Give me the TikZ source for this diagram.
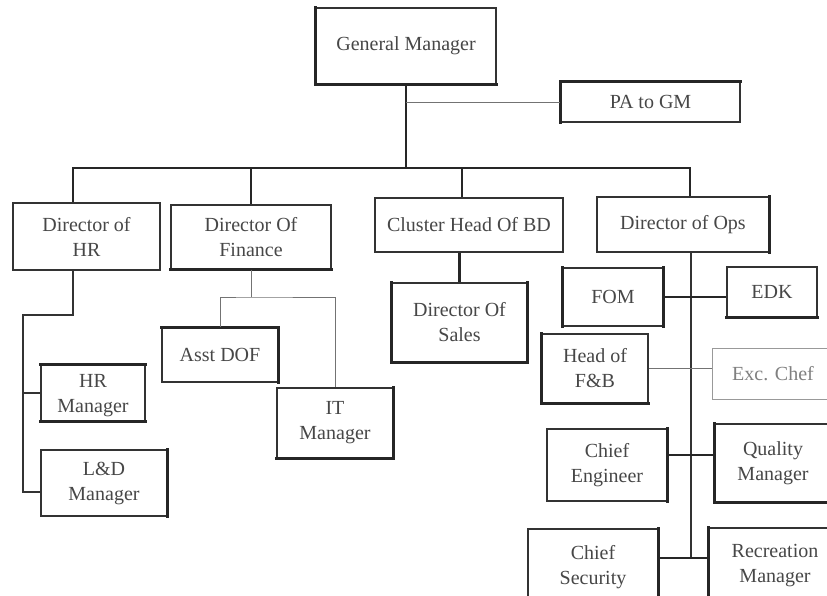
\documentclass[tikz,border=0pt]{standalone}
\usepackage{fontspec}
\setmainfont{Liberation Serif}
\begin{document}
\begin{tikzpicture}[x=1pt,y=-1pt,
  box/.style={draw=black!80, line width=1.2pt, fill=white, align=center,
    text=black!72, font=\fontsize{20}{25}\selectfont, inner sep=0pt},
  lightbox/.style={box, draw=black!40, text=black!50, line width=1pt},
  thk/.style={draw=black!85, line width=2.8pt, line cap=rect},
  heavy/.style={draw=black!85, line width=2.4pt},
  mid/.style={draw=black!80, line width=1.5pt},
  thin/.style={draw=black!55, line width=1pt}]
\useasboundingbox (0,0) rectangle (827,595);
\clip (0,0) rectangle (827,595);
\fill[white] (0,0) rectangle (827,595);

% nodes
\node[box, minimum width=180pt, minimum height=76pt] (gm) at (406,46) {General Manager};
\node[box, minimum width=179pt, minimum height=40pt] (pa) at (650.5,102) {PA to GM};
\node[box, line width=2.4pt, minimum width=147pt, minimum height=67pt] (dhr) at (86.5,236.5) {Director of\\HR};
\node[box, minimum width=160pt, minimum height=64pt] (dfin) at (251,237) {Director Of\\Finance};
\node[box, minimum width=188pt, minimum height=54pt] (chbd) at (469,225) {Cluster Head Of BD};
\node[box, minimum width=172pt, minimum height=55pt] (dops) at (683,224.5) {Director of Ops};
\node[box, minimum width=135pt, minimum height=79pt] (dsales) at (459.5,322.5) {Director Of\\Sales};
\node[box, minimum width=100pt, minimum height=58pt] (fom) at (613,297) {FOM};
\node[box, minimum width=90pt, minimum height=50pt] (edk) at (772,292) {EDK};
\node[box, minimum width=116pt, minimum height=54pt] (asst) at (220,355) {Asst DOF};
\node[box, minimum width=116pt, minimum height=70pt] (it) at (335,423) {IT\\Manager};
\node[box, minimum width=104pt, minimum height=56pt, text depth=0pt] (hrm) at (93,393) {HR\\Manager};
\node[box, minimum width=126pt, minimum height=66pt] (ldm) at (104,483) {L\&D\\Manager};
\node[box, minimum width=106pt, minimum height=69pt] (hfb) at (595,368.5) {Head of\\F\&B};
\node[lightbox, minimum width=122pt, minimum height=51pt] (exc) at (773,373.5) {Exc. Chef};
\node[box, minimum width=120pt, minimum height=72pt] (ceng) at (607,465) {Chief\\Engineer};
\node[box, minimum width=116pt, minimum height=78pt] (qm) at (773,463) {Quality\\Manager};
\node[box, minimum width=130pt, minimum height=76pt] (csec) at (593,567) {Chief\\Security};
\node[box, minimum width=132pt, minimum height=76pt] (rec) at (775,566) {Recreation\\Manager};

% thick edges
\draw[thk] (gm.north west) -- (gm.south west) -- (gm.south east);
\draw[thk] (pa.south west) -- (pa.north west) -- (pa.north east);
\draw[thk] (dfin.south west) -- (dfin.south east);
\draw[thk] (dops.north east) -- (dops.south east);
\draw[thk] (fom.north west) -- (fom.south west);
\draw[thk] (fom.north east) -- (fom.south east);
\draw[thk] (edk.south west) -- (edk.south east);
\draw[thk] (dsales.north west) -- (dsales.south west) -- (dsales.south east) -- (dsales.north east);
\draw[thk] (asst.north west) -- (asst.north east) -- (asst.south east);
\draw[thk] (hrm.north west) -- (hrm.north east);
\draw[thk] (hrm.south west) -- (hrm.south east);
\draw[thk] (ldm.north east) -- (ldm.south east);
\draw[thk] (it.north east) -- (it.south east) -- (it.south west);
\draw[thk] (hfb.north west) -- (hfb.south west) -- (hfb.south east);
\draw[thk] (ceng.north east) -- (ceng.south east);
\draw[thk] (qm.north west) -- (qm.south west) -- (qm.south east);
\draw[thk] (csec.north east) -- (csec.south east);
\draw[thk] (rec.north west) -- (rec.south west);

% connector coordinates
\coordinate (bL) at (73,168);
\coordinate (bR) at (690,168);
\coordinate (fj) at (251,297);
\coordinate (hrA) at (23,315);
\coordinate (oB) at (691,558);

% connectors
\draw[heavy] (gm.south) -- (gm.south |- bL);
\draw[thin] (gm.south |- pa.west) -- (pa.west);
\draw[heavy] (dhr.north -| bL) -- (bL) -- (bR) -- (dops.north -| bR);
\draw[heavy] (dfin.north |- bL) -- (dfin.north);
\draw[heavy] (bL -| 462,0) -- (chbd.north -| 462,0);
\draw[thin] (dfin.south) -- (fj);
\draw[thin] (asst.north) |- (fj) -| (it.north);
\draw[mid] (dhr.south -| bL) |- (hrA) |- ([yshift=-9pt]ldm.west);
\draw[mid] (hrA |- hrm.west) -- (hrm.west);
\draw[heavy] (dsales.north |- chbd.south) -- (dsales.north);
\draw[mid] (dops.south -| oB) -- (oB);
\draw[heavy] (fom.east) -- (fom.east -| edk.west);
\draw[thin] (hfb.east) -- (hfb.east -| exc.west);
\draw[heavy] ([yshift=10pt]ceng.east) -- ([yshift=10pt]ceng.east -| qm.west);
\draw[heavy] (csec.east |- oB) -- (rec.west |- oB);
\end{tikzpicture}
\end{document}
